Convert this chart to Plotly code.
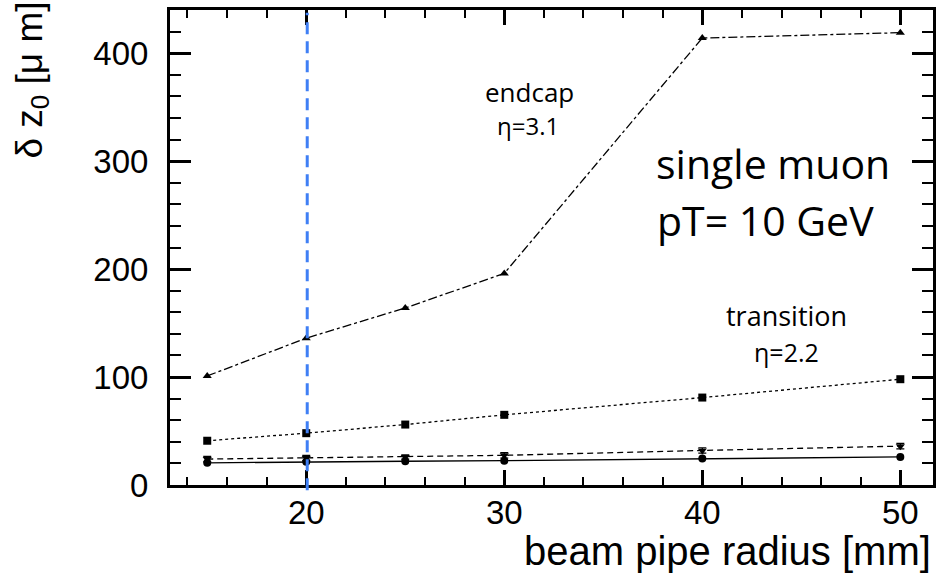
import plotly.graph_objects as go

radius = [15, 20, 25, 30, 40, 50]
endcap = [101, 136, 164, 196, 414, 419]
transition = [41, 48, 56, 65, 81, 98]
mid = [24, 25, 26, 27.5, 32, 36]
barrel = [20.5, 21.5, 22, 22.5, 24.5, 26]
mid_err = [2.5, 2.5, 2, 2.5, 2.5, 2.5]

x_ticks = [20, 30, 40, 50]
y_ticks = [0, 100, 200, 300, 400]
beam_pipe = 20.05

fig = go.Figure()
lw = 1.3
fig.add_trace(go.Scatter(x=radius, y=endcap, mode="lines+markers",
                         line=dict(color="black", width=lw, dash="dashdot"),
                         marker=dict(symbol="triangle-up", size=8, color="black")))
fig.add_trace(go.Scatter(x=radius, y=transition, mode="lines+markers",
                         line=dict(color="black", width=lw, dash="dot"),
                         marker=dict(symbol="square", size=8, color="black")))
fig.add_trace(go.Scatter(x=radius, y=mid, mode="lines+markers",
                         line=dict(color="black", width=lw, dash="6px,4px"),
                         error_y=dict(type="data", array=mid_err, color="black", thickness=1.2, width=4),
                         marker=dict(symbol="triangle-down", size=8, color="black")))
fig.add_trace(go.Scatter(x=radius, y=barrel, mode="lines+markers",
                         line=dict(color="black", width=lw),
                         marker=dict(symbol="circle", size=8, color="black")))

fig.add_shape(type="line", xref="x", yref="paper", x0=beam_pipe, x1=beam_pipe,
              y0=-0.011, y1=0.994, line=dict(color="#3f7ff5", width=3, dash="12px,7px"))

fam = "Liberation Sans, Arial, sans-serif"
tick_font = dict(family=fam, size=33, color="black")
fig.update_xaxes(range=[13.12, 51.65], tickvals=x_ticks, ticks="inside", ticklen=15, tickwidth=3,
                 tickcolor="black", showline=True, linewidth=3, linecolor="black", mirror="allticks",
                 showgrid=False, zeroline=False, tickfont=tick_font, ticklabelstandoff=-4,
                 minor=dict(dtick=2, ticks="inside", ticklen=8, tickwidth=2, tickcolor="black", showgrid=False))
fig.update_yaxes(range=[0, 440], tickvals=y_ticks, ticks="inside", ticklen=21, tickwidth=3,
                 tickcolor="black", showline=True, linewidth=3, linecolor="black", mirror="allticks",
                 showgrid=False, zeroline=False, tickfont=tick_font, ticklabelstandoff=12,
                 minor=dict(dtick=20, ticks="inside", ticklen=11, tickwidth=2, tickcolor="black", showgrid=False))

H = 475.0
def py(pix):
    return (485 - pix) / H

text_font = "Open Sans, sans-serif"
anns = [
    dict(text="endcap", x=531, y=92, size=26),
    dict(text="η=3.1", x=529, y=126, size=24),
    dict(text="single muon", x=775, y=163, size=41),
    dict(text="pT= 10 GeV", x=768, y=220, size=41),
    dict(text="transition", x=789, y=315, size=27),
    dict(text="η=2.2", x=789, y=352, size=25),
]
for a in anns:
    fig.add_annotation(text=a["text"], xref="paper", yref="paper",
                       x=(a["x"] - 170) / 766.0, y=py(a["y"]), showarrow=False,
                       xanchor="center", yanchor="middle",
                       font=dict(family=text_font, size=a["size"], color="black"))

fig.add_annotation(text="δ z<sub>0</sub> [μ m]", xref="paper", yref="paper",
                   x=(31 - 170) / 766.0, y=py(80), textangle=-90, showarrow=False,
                   xanchor="center", yanchor="middle", font=dict(family=fam, size=37, color="black"))
fig.add_annotation(text="beam pipe radius [mm]", xref="paper", yref="paper",
                   x=1.0, y=py(551), showarrow=False, xanchor="right", yanchor="middle",
                   font=dict(family=fam, size=40, color="black"))

fig.update_layout(width=938, height=573, margin=dict(l=170, r=2, t=10, b=88),
                  paper_bgcolor="white", plot_bgcolor="white", showlegend=False)

fig.write_html("out.html")
